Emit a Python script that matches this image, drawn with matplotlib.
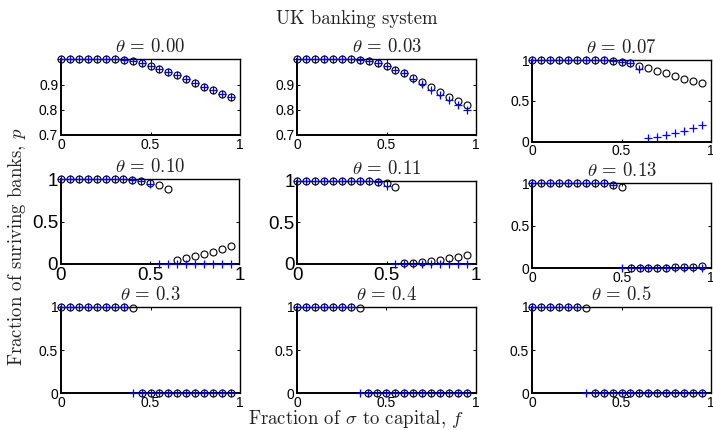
import matplotlib
matplotlib.use("Agg")
import matplotlib.pyplot as plt

plt.rcParams['mathtext.fontset'] = 'cm'
plt.rcParams['font.family'] = ['Liberation Sans', 'DejaVu Sans']

# fraction of sigma to capital
f = [0.00, 0.05, 0.10, 0.15, 0.20, 0.25, 0.30, 0.35, 0.40, 0.45,
     0.50, 0.55, 0.60, 0.65, 0.70, 0.75, 0.80, 0.85, 0.90, 0.95]

thetas = ['0.00', '0.03', '0.07', '0.10', '0.11', '0.13', '0.3', '0.4', '0.5']

# circles (black)
c_000 = [1, 1, 1, 1, 1, 1, 1, 0.997, 0.993, 0.985, 0.975, 0.963, 0.951, 0.937, 0.922, 0.908, 0.892, 0.877, 0.864, 0.851]
c_003 = [1, 1, 1, 1, 1, 1, 1, 0.997, 0.992, 0.984, 0.974, 0.958, 0.945, 0.927, 0.909, 0.889, 0.871, 0.852, 0.835, 0.819]
c_007 = [1, 1, 1, 1, 1, 1, 1, 1, 1, 0.99, 0.976, 0.959, 0.93, 0.898, 0.869, 0.841, 0.808, 0.771, 0.747, 0.722]
c_010 = [1, 1, 1, 1, 1, 1, 1, 1, 0.99, 0.976, 0.961, 0.929, 0.89, 0.047, 0.071, 0.098, 0.118, 0.146, 0.181, 0.217]
c_011 = [1, 1, 1, 1, 1, 1, 1, 1, 0.995, 0.99, 0.968, 0.928, 0.012, 0.016, 0.024, 0.036, 0.052, 0.068, 0.088, 0.108]
c_013 = [1, 1, 1, 1, 1, 1, 1, 1, 1, 0.985, 0.96, 0.003, 0.004, 0.005, 0.006, 0.008, 0.010, 0.013, 0.020, 0.027]
c_030 = [1, 1, 1, 1, 1, 1, 1, 1, 0.99, 0, 0, 0, 0, 0, 0, 0, 0, 0, 0, 0]
c_040 = [1, 1, 1, 1, 1, 1, 1, 0.99, 0, 0, 0, 0, 0, 0, 0, 0, 0, 0, 0, 0]
c_050 = [1, 1, 1, 1, 1, 1, 0.99, 0, 0, 0, 0, 0, 0, 0, 0, 0, 0, 0, 0, 0]

# pluses (blue)
p_000 = [1, 1, 1, 1, 1, 1, 1, 0.997, 0.993, 0.985, 0.975, 0.963, 0.951, 0.937, 0.922, 0.908, 0.892, 0.877, 0.864, 0.851]
p_003 = [1, 1, 1, 1, 1, 1, 1, 0.997, 0.992, 0.984, 0.974, 0.958, 0.944, 0.923, 0.902, 0.878, 0.859, 0.839, 0.818, 0.800]
p_007 = [1, 1, 1, 1, 1, 1, 1, 1, 1, 0.99, 0.976, 0.959, 0.895, 0.041, 0.061, 0.082, 0.102, 0.135, 0.163, 0.204]
p_010 = [1, 1, 1, 1, 1, 1, 1, 1, 0.99, 0.976, 0.94, 0, 0, 0, 0, 0, 0, 0, 0, 0]
p_011 = [1, 1, 1, 1, 1, 1, 1, 1, 0.995, 0.99, 0.936, 0, 0, 0, 0, 0, 0, 0, 0, 0]
p_013 = [1, 1, 1, 1, 1, 1, 1, 1, 1, 0.976, 0, 0, 0, 0, 0, 0, 0, 0, 0, 0]
p_030 = [1, 1, 1, 1, 1, 1, 1, 1, 0, 0, 0, 0, 0, 0, 0, 0, 0, 0, 0, 0]
p_040 = [1, 1, 1, 1, 1, 1, 1, 0, 0, 0, 0, 0, 0, 0, 0, 0, 0, 0, 0, 0]
p_050 = [1, 1, 1, 1, 1, 1, 0, 0, 0, 0, 0, 0, 0, 0, 0, 0, 0, 0, 0, 0]

circles = [c_000, c_003, c_007, c_010, c_011, c_013, c_030, c_040, c_050]
pluses = [p_000, p_003, p_007, p_010, p_011, p_013, p_030, p_040, p_050]

W, H = 713, 430
# axes boxes in pixels: left, right, top, bottom
boxes = [
    (61, 240, 59.3, 135), (297.3, 475.7, 59.3, 135), (532.3, 710.7, 60, 141.7),
    (61, 239.5, 179.3, 264), (297.3, 475.7, 180.7, 264), (532.3, 711, 183.3, 268.3),
    (61, 240, 306.7, 393.3), (297, 475.7, 306.7, 393.3), (532, 711, 306.7, 393.3),
]
tick_sizes = [10, 10, 10, 13.5, 13.5, 10, 10, 10, 10]

fig = plt.figure(figsize=(W / 100, H / 100), dpi=100)

for i in range(9):
    l, r, t, b = boxes[i]
    ax = fig.add_axes([l / W, 1 - b / H, (r - l) / W, (b - t) / H])
    ax.plot(f, circles[i], linestyle='none', marker='o', ms=5.0, mfc='none',
            mec='black', mew=0.8, clip_on=False, zorder=3)
    ax.plot(f, pluses[i], linestyle='none', marker='+', ms=6, color='blue',
            mew=0.9, clip_on=False, zorder=4)
    ax.set_xlim(0, 1)
    ax.set_xticks([0, 0.5, 1])
    ax.set_xticklabels(['0', '0.5', '1'])
    if i < 2:
        ax.set_ylim(0.7, 1.0)
        ax.set_yticks([0.7, 0.8, 0.9])
        ax.set_yticklabels(['0.7', '0.8', '0.9'])
    else:
        ax.set_ylim(0, 1)
        ax.set_yticks([0, 0.5, 1])
        ax.set_yticklabels(['0', '0.5', '1'])
    ax.tick_params(direction='in', length=2.5, width=0.7, top=True, right=True,
                   labelsize=tick_sizes[i], pad=2, colors='black')
    for name, s in ax.spines.items():
        s.set_linewidth(1.4 if name in ('left', 'bottom') else 1.0)
    ax.set_title(r'$\theta\, =\, %s$' % thetas[i], fontsize=13.5, pad=5, color='#222222')

fig.text(0.5, 1 - 19 / H, 'UK banking system', family='cmr10', fontsize=13.5,
         ha='center', va='center', color='#222222')
fig.text(356 / W, 1 - 419 / H, r'Fraction of $\sigma$ to capital, $f$', family='cmr10',
         fontsize=13.5, ha='center', va='center', color='#222222')
fig.text(17 / W, 1 - 247 / H, r'Fraction of suriving banks, $p$', family='cmr10',
         fontsize=13.5, ha='center', va='center', rotation=90, color='#222222')

fig.savefig('out.png', dpi=100)
